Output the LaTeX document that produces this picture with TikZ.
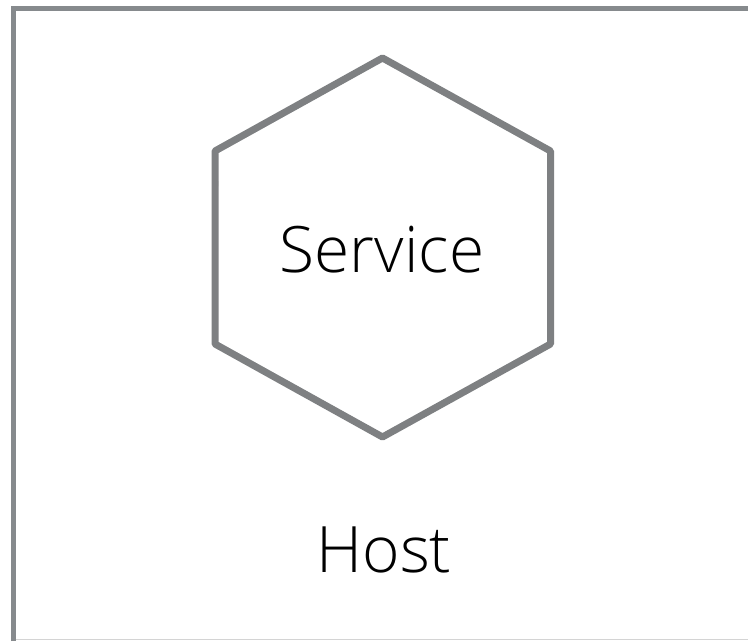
\documentclass[tikz,border=0pt]{standalone}
\usepackage{fontspec}
\setmainfont{Open Sans Light}
\usetikzlibrary{decorations.pathmorphing}
\definecolor{framegray}{HTML}{868A8D}
\definecolor{hexgray}{HTML}{7E8082}
\definecolor{rulegray}{HTML}{D4D4D4}
\tikzset{
  frameline/.style={draw=framegray, line width=5.5pt},
  hexline/.style={draw=hexgray, line width=7pt, line join=round},
  hexrough/.style={draw=hexgray, line width=1.3pt, line join=round,
    decoration={random steps, segment length=2pt, amplitude=2.2pt}, decorate},
  label/.style={font=\fontsize{64}{68}\selectfont, text=black, inner sep=0pt}
}
\begin{document}
\begin{tikzpicture}[x=1pt, y=1pt]
  \useasboundingbox (0,0) rectangle (748,641);
  % host frame: heavy left and top edges, faint bottom rule
  \coordinate (fTL) at (13.5,632.5);
  \coordinate (fBL) at (13.5,0);
  \coordinate (fTR) at (748,632.5);
  \coordinate (bL) at (16,1.5);
  \coordinate (bR) at (748,1.5);
  \draw[rulegray, line width=1.5pt] (bL) -- (bR);
  \draw[frameline] (fBL) -- (fTL) -- (fTR);
  % hexagon corners
  \coordinate (hT) at (382.5,583);
  \coordinate (hUR) at (550.5,490);
  \coordinate (hLR) at (550.5,297);
  \coordinate (hB) at (382.5,204);
  \coordinate (hLL) at (215,297);
  \coordinate (hUL) at (215,490);
  % sketchy outline: solid core plus jittered passes
  \draw[hexline] (hT) -- (hUR) -- (hLR) -- (hB) -- (hLL) -- (hUL) -- cycle;
  \draw[hexrough] (hT) -- (hUR) -- (hLR) -- (hB) -- (hLL) -- (hUL) -- cycle;
  \draw[hexrough, decoration={random steps, segment length=3pt, amplitude=2.5pt}]
    (hT) -- (hUR) -- (hLR) -- (hB) -- (hLL) -- (hUL) -- cycle;
  % labels
  \node[label] (service) at (382,391) {Service};
  \node[label] (host) at (384,91) {Host};
\end{tikzpicture}
\end{document}
